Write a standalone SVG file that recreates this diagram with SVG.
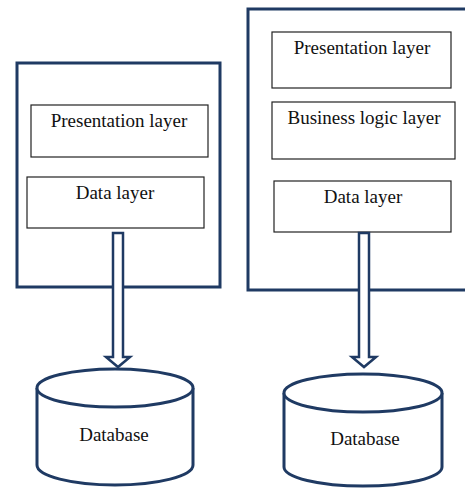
<svg xmlns="http://www.w3.org/2000/svg" width="465" height="488" viewBox="0 0 465 488">
<style>
.outer{fill:#fff;stroke:#1f3a63;stroke-width:3}
.layer{fill:#fff;stroke:#222;stroke-width:1.2}
.t{font-family:"Liberation Serif","Times New Roman",serif;font-size:19px;fill:#111;text-anchor:middle}
.arrow{fill:#fff;stroke:#1f3a63;stroke-width:2.5;stroke-linejoin:miter}
.cyl{fill:#fff;stroke:#1f3a63;stroke-width:3}
</style>
<rect width="465" height="488" fill="#fff"/>
<g id="left-system">
<rect class="outer" x="17" y="63" width="203" height="224"/>
</g>
<g id="left-presentation">
<rect class="layer" x="31" y="105" width="177" height="52"/>
<text class="t" x="119" y="127">Presentation layer</text>
</g>
<g id="left-data">
<rect class="layer" x="27" y="177" width="177" height="51"/>
<text class="t" x="115" y="199">Data layer</text>
</g>
<g id="right-system">
<rect class="outer" x="248" y="9" width="225" height="281"/>
</g>
<g id="right-presentation">
<rect class="layer" x="272" y="32" width="179" height="56"/>
<text class="t" x="362" y="54">Presentation layer</text>
</g>
<g id="right-business">
<rect class="layer" x="272" y="102" width="183" height="57"/>
<text class="t" x="364" y="124">Business logic layer</text>
</g>
<g id="right-data">
<rect class="layer" x="274" y="181" width="177" height="51"/>
<text class="t" x="363" y="203">Data layer</text>
</g>
<g id="left-database">
<path class="cyl" d="M37,388 L37,465 A78,20 0 0 0 193,465 L193,388"/>
<ellipse class="cyl" cx="115" cy="388" rx="78" ry="19"/>
<text class="t" x="114" y="441">Database</text>
</g>
<g id="right-database">
<path class="cyl" d="M284,393 L284,467 A79,19 0 0 0 442,467 L442,393"/>
<ellipse class="cyl" cx="363" cy="393" rx="79" ry="19"/>
<text class="t" x="365" y="445">Database</text>
</g>
<g id="connectors">
<path class="arrow" d="M113,233 L123,233 L123,357 L130,357 L118,367 L106,357 L113,357 Z"/>
<path class="arrow" d="M359,233 L369,233 L369,357 L376,357 L364,367 L352,357 L359,357 Z"/>
</g>
</svg>
